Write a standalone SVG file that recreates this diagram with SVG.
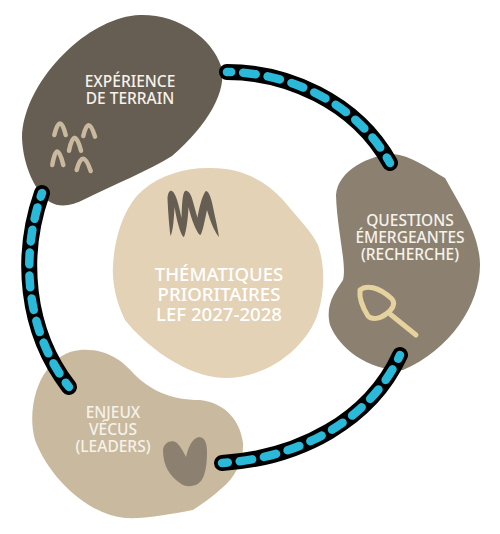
<svg xmlns="http://www.w3.org/2000/svg" width="500" height="534" viewBox="0 0 500 534">
<style>
.t{font-family:"Noto Sans","Open Sans","Liberation Sans",sans-serif;font-weight:500;fill:#f6f2ea;text-anchor:middle;font-size:15.5px}
.c{font-size:18.6px;fill:#fff}
.k{fill:none;stroke:#000;stroke-width:16;stroke-linecap:round}
.b{fill:none;stroke:#2bb9d9;stroke-width:8.5;stroke-linecap:round;stroke-dasharray:12 11.5;stroke-dashoffset:8}
.g{fill:none;stroke:#c9b99e;stroke-width:4.5;stroke-linecap:round}
</style>
<g id="node-experience">
<path fill="#665e52" d="M140 15C178 14 212 38 221 66C228 90 208 125 172 156C150 170 115 184 85 199C72 206 60 208 50 202C35 192 23 165 22 138C22 110 40 75 70 48C90 30 115 16 140 15Z"/>
<path class="g" d="M54.300 135Q60 112 65.700 135M83.300 136Q88.300 114 95 136.700M69 150.700Q74.300 125 81 150.700M52.300 165Q56.700 138 63.300 165M76.700 170Q82.700 147 90.700 171"/>
<text class="t" x="130" y="87">EXPÉRIENCE</text>
<text class="t" x="130" y="104">DE TERRAIN</text>
</g>
<g id="node-questions">
<path fill="#8c8170" d="M393 154C410 155 428 168 445 178C460 205 480 235 480 265C480 305 450 350 403 370C370 371 340 350 330 325C325 305 335 292 343 280C347 265 337 230 336 195C338 170 370 155 393 154Z"/>
<path fill="none" stroke="#e6d29f" stroke-width="5" stroke-linecap="round" stroke-linejoin="round" d="M360 290C366 285 378 286 392 299C396 304 392 310 386 314C380 319 372 320 368 316C363 308 359 298 360 290ZM390 314L416 335"/>
<text class="t" x="410" y="226">QUESTIONS</text>
<text class="t" x="410" y="243">ÉMERGEANTES</text>
<text class="t" x="410" y="260">(RECHERCHE)</text>
</g>
<g id="node-enjeux">
<path fill="#c9b99e" d="M80 350C105 348 122 360 134 374C150 390 170 400 200 400C225 403 240 420 243 443C244 460 235 478 222 488C212 497 202 504 193 510C165 515 145 519 125 518C90 515 50 480 35 440C28 415 35 385 47 370C55 358 68 351 80 350Z"/>
<path fill="#8c8170" d="M163 450C164 442 172 439 177 443C181 447 184 453 186 457C188 449 191 439 199 437C206 437 207 446 207 452C207 465 205 476 201 481C196 487 186 488 180 483C170 476 163 466 163 450Z"/>
<text class="t" x="113" y="418">ENJEUX</text>
<text class="t" x="113" y="435">VÉCUS</text>
<text class="t" x="113" y="452">(LEADERS)</text>
</g>
<g id="node-center">
<path fill="#e4d2b6" d="M208 168C240 167 265 180 283 200C298 218 312 232 318 245C325 265 325 290 318 313C308 345 270 378 225 378C185 377 145 345 125 320C115 300 112 280 113 265C115 235 125 205 143 190C160 175 185 168 208 168Z"/>
<path fill="#665e52" d="M170.500 236C169 225 168 210 167.500 198C168 192 170 190 172 191C176 193 179 206 181.500 218C182 208 182 194 185 191C188 190 191 194 192.500 200C194 206 196 212 197.500 218C199 208 203 193 206 191C209 191 212 200 214 212C216 221 218 230 219 237C216 234 211 224 207 210C205 219 203 231 200.500 235C198 235 192 222 188.500 207C188 219 186 233 184 237C181 236 177 222 174.500 207C174 218 173 232 170.500 236Z"/>
<text class="t c" x="219" y="281">THÉMATIQUES</text>
<text class="t c" x="219" y="301">PRIORITAIRES</text>
<text class="t c" x="219" y="321">LEF 2027-2028</text>
</g>
<g id="connectors">
<path class="k" d="M227 72C285 72 355 100 390 163"/>
<path class="b" pathLength="186" d="M227 72C285 72 355 100 390 163"/>
<path class="k" d="M400 355C370 420 300 458 222 463"/>
<path class="b" pathLength="209" d="M400 355C370 420 300 458 222 463"/>
<path class="k" d="M42 193C20 255 25 330 69 387"/>
<path class="b" pathLength="209" d="M42 193C20 255 25 330 69 387"/>
</g>
</svg>
